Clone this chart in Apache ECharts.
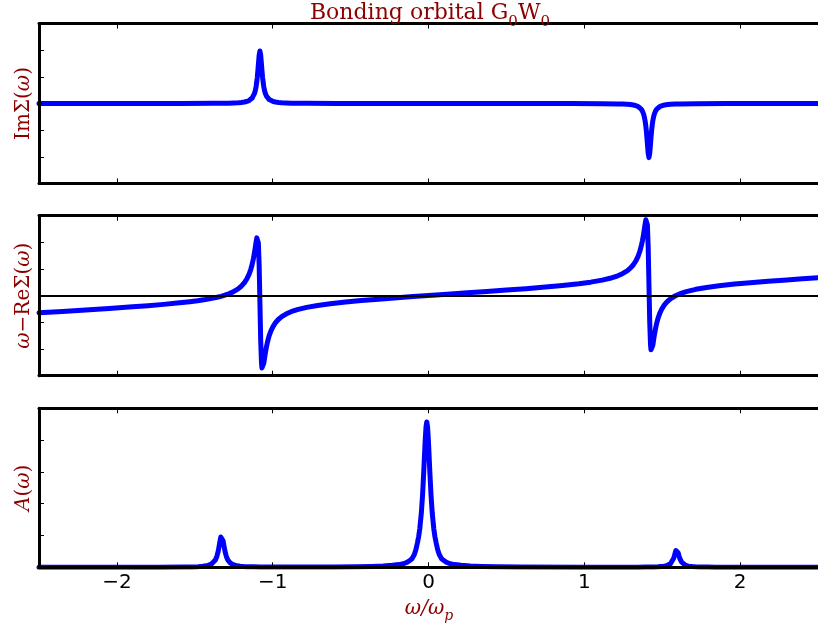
<!DOCTYPE html>
<html><head><meta charset="utf-8">
<script src="https://cdn.jsdelivr.net/npm/echarts@6/dist/echarts.min.js"></script>
<style>html,body{margin:0;padding:0;background:#fff}#c{width:818px;height:630px}</style>
</head><body><div id="c"></div>
<script>
// ---- data (y in tick units) ----
const xTicks = [-2, -1, 0, 1, 2];

const imX = [-2.5, -1.582, -1.382, -1.282, -1.252, -1.222, -1.202, -1.182, -1.167, -1.152, -1.142, -1.132, -1.124,
  -1.117, -1.112, -1.107, -1.103, -1.099, -1.095, -1.092, -1.087, -1.082,
  -1.077, -1.072, -1.069, -1.065, -1.061, -1.057, -1.052, -1.047, -1.04, -1.032, -1.022, -1.012, -0.997, -0.982,
  -0.962, -0.942, -0.912, -0.882, -0.782, -0.582, 0.4,
  0.915, 1.115, 1.215, 1.245, 1.275, 1.295, 1.315, 1.33, 1.345, 1.355, 1.365, 1.373, 1.38, 1.385, 1.39, 1.394,
  1.398, 1.402, 1.405, 1.41, 1.415,
  1.42, 1.425, 1.428, 1.432, 1.436, 1.44, 1.445, 1.45, 1.457, 1.465, 1.475, 1.485, 1.5, 1.515, 1.535, 1.555,
  1.585, 1.615, 1.715, 1.915, 2.5];
const imY = [0.001, 0.002, 0.006, 0.014, 0.020, 0.029, 0.039, 0.055, 0.076, 0.110, 0.146, 0.204, 0.277,
  0.376, 0.479, 0.623, 0.780, 0.985, 1.243, 1.464, 1.813, 1.970,
  1.813, 1.464, 1.243, 0.985, 0.780, 0.623, 0.479, 0.376, 0.277, 0.204, 0.146, 0.110, 0.076, 0.055,
  0.039, 0.029, 0.020, 0.014, 0.006, 0.002, 0.0,
  -0.002, -0.0065, -0.015, -0.020, -0.0295, -0.040, -0.057, -0.078, -0.113, -0.151, -0.210, -0.286, -0.388, -0.493, -0.642, -0.804,
  -1.015, -1.281, -1.508, -1.868, -2.030,
  -1.868, -1.508, -1.281, -1.015, -0.804, -0.642, -0.493, -0.388, -0.286, -0.210, -0.151, -0.113, -0.078, -0.057, -0.040, -0.0295,
  -0.020, -0.015, -0.0065, -0.002, -0.001];

const reX = [-2.5, -2.35, -2.2, -2.05, -1.9, -1.8, -1.7, -1.615, -1.532, -1.482, -1.432, -1.382, -1.357, -1.332, -1.307,
  -1.282, -1.257, -1.222, -1.2, -1.182, -1.166, -1.152, -1.141, -1.132, -1.124, -1.117, -1.112, -1.107, -1.102,
  -1.098, -1.095, -1.092, -1.087, -1.082, -1.077, -1.072, -1.069, -1.066, -1.062, -1.057, -1.052, -1.047, -1.04,
  -1.032, -1.023, -1.012, -0.998, -0.982, -0.964, -0.942, -0.912, -0.882, -0.842, -0.782, -0.712, -0.632, -0.532,
  -0.432, -0.32, -0.2, -0.1, 0, 0.12, 0.25, 0.375, 0.5, 0.625, 0.75, 0.86, 0.965, 1.04, 1.115, 1.165, 1.215, 1.245,
  1.275, 1.297, 1.315, 1.331, 1.345, 1.356, 1.365, 1.373, 1.38, 1.385, 1.39, 1.395, 1.399, 1.402, 1.405, 1.41, 1.415,
  1.42, 1.425, 1.428, 1.431, 1.435, 1.44, 1.445, 1.45, 1.457, 1.465, 1.474, 1.485, 1.499, 1.515, 1.533, 1.555,
  1.585, 1.615, 1.655, 1.715, 1.785, 1.865, 1.965, 2.065, 2.18, 2.3, 2.4, 2.5];
const reY = [-0.640, -0.588, -0.534, -0.478, -0.417, -0.373, -0.325, -0.278, -0.225, -0.188, -0.144, -0.091, -0.059, -0.023, 0.020,
  0.072, 0.135, 0.257, 0.365, 0.485, 0.629, 0.800, 0.981, 1.171, 1.386, 1.616, 1.802, 1.998, 2.169,
  2.231, 2.179, 1.979, 1.156, -0.264, -1.686, -2.508, -2.708, -2.760, -2.697, -2.527, -2.331, -2.145, -1.914,
  -1.700, -1.509, -1.329, -1.157, -1.013, -0.893, -0.785, -0.678, -0.600, -0.522, -0.437, -0.365, -0.301, -0.238,
  -0.183, -0.129, -0.076, -0.034, 0.007, 0.055, 0.107, 0.158, 0.210, 0.264, 0.324, 0.383, 0.449, 0.508, 0.585, 0.653, 0.748, 0.826,
  0.933, 1.041, 1.161, 1.305, 1.477, 1.657, 1.848, 2.062, 2.292, 2.479, 2.675, 2.845, 2.907, 2.855, 2.656, 1.834, 0.412,
  -1.009, -1.832, -2.031, -2.083, -2.021, -1.850, -1.655, -1.468, -1.238, -1.024, -0.833, -0.652, -0.481, -0.337, -0.217, -0.109,
  -0.002, 0.076, 0.154, 0.239, 0.310, 0.373, 0.436, 0.489, 0.542, 0.593, 0.632, 0.670];

const aX = [-2.5, -2.028, -1.728, -1.578, -1.528, -1.478, -1.448, -1.428, -1.415, -1.403, -1.393, -1.383, -1.368, -1.358,
  -1.35, -1.343, -1.338, -1.333, -1.328, -1.323, -1.318, -1.313, -1.306, -1.298, -1.288, -1.273, -1.263, -1.253,
  -1.241, -1.228, -1.208, -1.178, -1.128, -1.078, -0.928,
  -0.611, -0.461, -0.361, -0.291, -0.231, -0.191, -0.161, -0.141, -0.121, -0.106, -0.091, -0.081, -0.071, -0.063,
  -0.056, -0.046, -0.038, -0.031, -0.026, -0.021, -0.016, -0.011, -0.006, -0.001, 0.004, 0.009, 0.016, 0.024, 0.034,
  0.041, 0.049, 0.059, 0.069, 0.084, 0.099, 0.119, 0.139, 0.169, 0.209, 0.269, 0.339, 0.439, 0.589, 0.989,
  1.193, 1.343, 1.393, 1.443, 1.473, 1.493, 1.506, 1.518, 1.528, 1.538, 1.553, 1.563, 1.573, 1.578, 1.583, 1.588, 1.593,
  1.598, 1.603, 1.608, 1.613, 1.623, 1.633, 1.648, 1.658, 1.668, 1.68, 1.693, 1.713, 1.743, 1.793, 1.843, 1.993, 2.5];
const aY = [0.001, 0.001, 0.003, 0.008, 0.012, 0.021, 0.033, 0.046, 0.060, 0.079, 0.103, 0.138, 0.232, 0.350,
  0.500, 0.683, 0.829, 0.951, 1.000, 0.951, 0.829, 0.683, 0.500, 0.350, 0.232, 0.138, 0.103, 0.079,
  0.060, 0.046, 0.033, 0.021, 0.015, 0.011, 0.007,
  0.010, 0.017, 0.027, 0.040, 0.062, 0.085, 0.110, 0.150, 0.210, 0.270, 0.400, 0.550, 0.770, 0.970,
  1.210, 1.705, 2.285, 2.951, 3.492, 4.019, 4.418, 4.570, 4.418, 4.019, 3.492, 2.951, 2.285, 1.705, 1.210,
  0.970, 0.770, 0.550, 0.400, 0.270, 0.210, 0.150, 0.110, 0.085, 0.062, 0.040, 0.027, 0.017, 0.011, 0.005,
  0.004, 0.005, 0.007, 0.011, 0.015, 0.023, 0.028, 0.037, 0.048, 0.065, 0.112, 0.172, 0.280, 0.358, 0.448, 0.527, 0.560,
  0.527, 0.448, 0.358, 0.280, 0.172, 0.112, 0.065, 0.048, 0.037, 0.028, 0.022, 0.015, 0.011, 0.007, 0.005, 0.002, 0.001];

// ---- chart ----
const RED = '#8b0000';
const SERIF = 'DejaVu Serif';
const fmt = v => (v < 0 ? '\u2212' + Math.abs(v) : String(v));
const pairs = (xs, ys) => xs.map((x, i) => [x, ys[i]]);

const grids = [
  {left: 39, top: 23.5, width: 782, height: 160},
  {left: 39, top: 215.7, width: 782, height: 160},
  {left: 39, top: 408.3, width: 782, height: 159}
];
const spine = {show: true, onZero: false, lineStyle: {color: '#000', width: 3}};
function xAx(gi, pos, labels) {
  return {
    type: 'value', gridIndex: gi, position: pos, min: -2.5, max: 2.5, z: 10,
    axisLine: spine,
    axisTick: {show: true, inside: true, length: 5, customValues: xTicks, lineStyle: {color: '#000', width: 1}},
    axisLabel: {show: labels, customValues: xTicks, formatter: fmt, margin: 5, color: '#000',
      fontSize: 20, fontFamily: 'DejaVu Sans'},
    splitLine: {show: false}
  };
}
function yAx(gi, mn, mx) {
  return {
    type: 'value', gridIndex: gi, min: mn, max: mx, interval: 1, z: 10,
    axisLine: spine,
    axisTick: {show: true, inside: true, length: 5, lineStyle: {color: '#000', width: 1}},
    axisLabel: {show: false}, splitLine: {show: false}
  };
}
const lineSty = {color: '#0000ff', width: 5, cap: 'round', join: 'round'};
function ser(xi, yi, data, extra) {
  return Object.assign({
    type: 'line', xAxisIndex: xi, yAxisIndex: yi, data: data, showSymbol: false, symbol: 'none',
    lineStyle: lineSty, itemStyle: {color: '#0000ff'}, clip: true, animation: false, silent: true
  }, extra || {});
}
function ylabel(y, text) {
  return {
    type: 'text', x: 24, y: y, rotation: Math.PI / 2, z: 20,
    style: {
      text: text, align: 'center', verticalAlign: 'middle', fontSize: 20, fontFamily: SERIF, fill: RED,
      rich: {i: {fontStyle: 'italic', fontSize: 20, fontFamily: SERIF, fill: RED}}
    }
  };
}

const option = {
  animation: false,
  backgroundColor: '#fff',
  grid: grids,
  xAxis: [xAx(0, 'bottom', false), xAx(0, 'top', false), xAx(1, 'bottom', false), xAx(1, 'top', false),
          xAx(2, 'bottom', true), xAx(2, 'top', false)],
  yAxis: [yAx(0, -3, 3), yAx(1, -3, 3), yAx(2, 0, 5)],
  series: [
    ser(0, 0, pairs(imX, imY)),
    ser(2, 1, pairs(reX, reY), {
      markLine: {silent: true, symbol: ['none', 'none'], label: {show: false}, animation: false,
        lineStyle: {color: '#000', width: 2, type: 'solid'}, data: [{yAxis: 0}]}
    }),
    ser(4, 2, pairs(aX, aY))
  ],
  graphic: [
    {
      type: 'text', x: 430, y: 13.5, z: 20,
      style: {
        text: 'Bonding orbital G{s|0}W{s|0}', align: 'center', verticalAlign: 'middle',
        fontSize: 22, fontFamily: SERIF, fill: RED,
        rich: {s: {fontSize: 15, fontFamily: SERIF, fill: RED, padding: [17, 0, 0, 0]}}
      }
    },
    ylabel(103.5, 'Im\u03a3({i|\u03c9})'),
    ylabel(295.7, '{i|\u03c9}\u2212Re\u03a3({i|\u03c9})'),
    ylabel(487.8, '{i|A}({i|\u03c9})'),
    {
      type: 'text', x: 429, y: 609, z: 20,
      style: {
        text: '\u03c9/\u03c9{s|p}', align: 'center', verticalAlign: 'middle',
        fontSize: 20, fontStyle: 'italic', fontFamily: SERIF, fill: RED,
        rich: {s: {fontSize: 14, fontStyle: 'italic', fontFamily: SERIF, fill: RED, padding: [14, 0, 0, 0]}}
      }
    }
  ]
};
const chart = echarts.init(document.getElementById('c'), null, {renderer: 'canvas'});
chart.setOption(option);
</script>
</body></html>
